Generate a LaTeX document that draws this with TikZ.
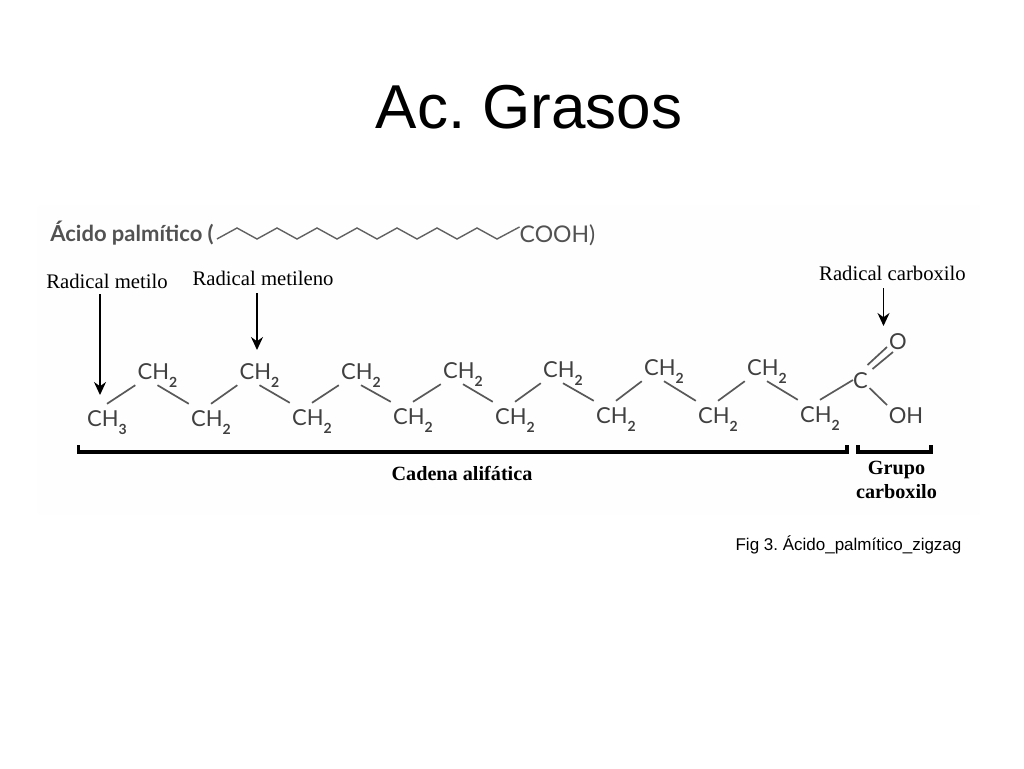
\documentclass[tikz,border=0pt]{standalone}
\usepackage{fontspec}
\setmainfont{Liberation Serif}
\newfontfamily\arialfont{Liberation Sans}
\newfontfamily\chemfont{Lato}
\usetikzlibrary{arrows.meta}
\frenchspacing
\newcommand{\subdigit}[1]{\raisebox{-8.5pt}{\fontsize{14}{14}\selectfont\bfseries #1}}
\tikzset{
   chain/.style={inner sep=0pt,minimum width=44pt,text height=22pt,text depth=6pt,
      text=black!75,font=\chemfont\fontsize{22}{22}\selectfont},
   atom/.style={chain,minimum width=0pt},
   bond/.style={draw=black!65,line width=1.7pt},
   radical/.style={inner sep=0pt,font=\fontsize{20.7}{22}\selectfont},
   group/.style={inner sep=0pt,font=\bfseries\fontsize{20.2}{24}\selectfont},
   pointer/.style={line width=1.6pt,-{Stealth[length=13pt,width=12pt]}},
   bracket/.style={line width=3.5pt},
   formula/.style={inner sep=0pt,text=black!68,font=\chemfont\bfseries\fontsize{22}{22}\selectfont}
}
\begin{document}
\begin{tikzpicture}[x=1pt,y=-1pt]
   \useasboundingbox (0,0) rectangle (1024,768);
   \fill[black!0.5] (37,205) rectangle (980,515);
   \node[inner sep=0pt,font=\arialfont\fontsize{62}{62}\selectfont] (title) at (529,107) {Ac. Grasos};
   \node[inner sep=0pt,font=\arialfont\fontsize{17}{17}\selectfont] (caption) at (848.5,545) {Fig 3. Ácido\_palmítico\_zigzag};
   % short formula
   \node[formula] (acid) at (132,233) {Ácido palmítico (};
   \node[formula,font=\chemfont\fontsize{23}{23}\selectfont] (cooh) at (557.5,235) {COOH)};
   \draw[black!62,line width=1.4pt] (acid.east) ++(3,6) -- (237,228) -- (257,239) -- (277,228) -- (297,239)
      -- (317,228) -- (337,239) -- (357,228) -- (377,239) -- (397,228) -- (417,239) -- (437,228)
      -- (457,239) -- (477,228) -- (497,239) -- ([yshift=8]cooh.west);
   % labels
   \node[radical] (metilo) at (107,281) {Radical metilo};
   \node[radical] (metileno) at (263,278) {Radical metileno};
   \node[radical] (carboxilo) at (892.5,273) {Radical carboxilo};
   % lower row
   \node[chain] (low1) at (107,418) {CH\subdigit{3}};
   \node[chain] (low2) at (211,418) {CH\subdigit{2}};
   \node[chain] (low3) at (312,417) {CH\subdigit{2}};
   \node[chain] (low4) at (413,416) {CH\subdigit{2}};
   \node[chain] (low5) at (515,416) {CH\subdigit{2}};
   \node[chain] (low6) at (616,415) {CH\subdigit{2}};
   \node[chain] (low7) at (718,415) {CH\subdigit{2}};
   \node[chain] (low8) at (820,414) {CH\subdigit{2}};
   % upper row
   \node[chain] (up1) at (157.5,371) {CH\subdigit{2}};
   \node[chain] (up2) at (259.5,371) {CH\subdigit{2}};
   \node[chain] (up3) at (361,371) {CH\subdigit{2}};
   \node[chain] (up4) at (463,370) {CH\subdigit{2}};
   \node[chain] (up5) at (563,369) {CH\subdigit{2}};
   \node[chain] (up6) at (664,367) {CH\subdigit{2}};
   \node[chain] (up7) at (767,367) {CH\subdigit{2}};
   % acid end
   \node[atom] (carbon) at (860.5,380) {C};
   \node[atom] (oxygen) at (898,341) {O};
   \node[atom] (hydroxyl) at (906,415) {OH};
   % bonds
   \draw[bond] (low1.north) -- (up1.south west);
   \draw[bond] (up1.south) -- (low2.north west);
   \draw[bond] (low2.north) -- (up2.south west);
   \draw[bond] (up2.south) -- (low3.north west);
   \draw[bond] (low3.north) -- (up3.south west);
   \draw[bond] (up3.south) -- (low4.north west);
   \draw[bond] (low4.north) -- (up4.south west);
   \draw[bond] (up4.south) -- (low5.north west);
   \draw[bond] (low5.north) -- (up5.south west);
   \draw[bond] (up5.south) -- (low6.north west);
   \draw[bond] (low6.north) -- (up6.south west);
   \draw[bond] (up6.south) -- (low7.north west);
   \draw[bond] (low7.north) -- (up7.south west);
   \draw[bond] (up7.south) -- (low8.north west);
   \draw[bond] (low8.north) -- (carbon.west);
   \draw[bond] ([shift={(7,-15)}]carbon.center) -- ([shift={(-11,6)}]oxygen.center);
   \draw[bond] ([shift={(12,-11)}]carbon.center) -- ([shift={(-5,11)}]oxygen.center);
   \draw[bond] ([shift={(9,8)}]carbon.center) -- ([shift={(-19,-10)}]hydroxyl.center);
   % pointers
   \coordinate (tipmetilo) at (100,395);
   \coordinate (tipmetileno) at (257,350);
   \coordinate (tipcarboxilo) at (883.5,326);
   \draw[pointer] (metilo.south -| tipmetilo) ++(0,6) -- (tipmetilo);
   \draw[pointer] (metileno.south -| tipmetileno) ++(0,8) -- (tipmetileno);
   \draw[pointer] (carboxilo.south -| tipcarboxilo) ++(0,8) -- (tipcarboxilo);
   % brackets
   \coordinate (aliphleft) at (78.5,445);
   \coordinate (aliphright) at (847,445);
   \coordinate (groupleft) at (858,445);
   \coordinate (groupright) at (931,445);
   \draw[bracket] (aliphleft) -- ++(0,7) -- (aliphright |- 0,452) -- (aliphright);
   \draw[bracket] (groupleft) -- ++(0,7) -- (groupright |- 0,452) -- (groupright);
   \node[group] (aliphatic) at (462,473) {Cadena alifática};
   \node[group,align=center] (carboxyl) at (896.5,480) {Grupo\\carboxilo};
\end{tikzpicture}
\end{document}
